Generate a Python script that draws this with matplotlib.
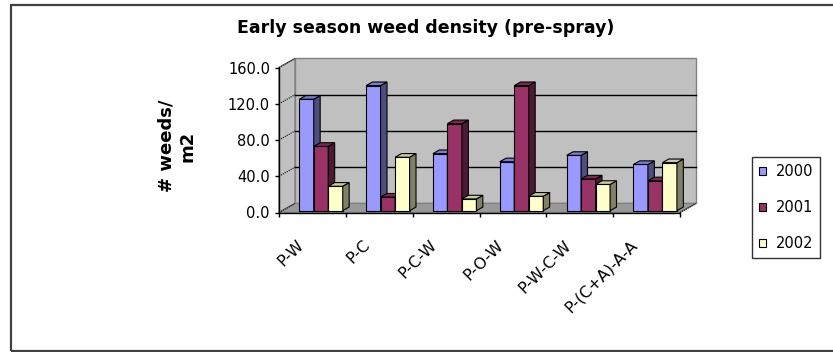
import matplotlib.pyplot as plt
from matplotlib.patches import Polygon, Rectangle, Patch
from matplotlib.transforms import ScaledTranslation

categories = ['P-W', 'P-C', 'P-C-W', 'P-O-W', 'P-W-C-W', 'P-(C+A)-A-A']
years = ['2000', '2001', '2002']
d2000 = [123, 138, 63, 54, 61, 51]
d2001 = [71, 15, 96, 138, 35, 33]
d2002 = [27, 59, 13, 16, 29, 53]
series = [d2000, d2001, d2002]
yticks = [0, 40, 80, 120, 160]

front = ['#9999FF', '#993366', '#FFFFCC']
side = ['#4D4D80', '#4D1A33', '#808066']
top = ['#7A7ACC', '#7A2952', '#CCCCA3']

plt.rcParams['font.family'] = 'DejaVu Sans'
W, H = 833, 352
fig = plt.figure(figsize=(W / 100, H / 100), dpi=100)

# front plane of the 3D box
ax = fig.add_axes([279 / W, 139.5 / H, 401 / W, 145 / H])
n = len(categories)
ymax = yticks[-1]
ax.set_xlim(0, n)
ax.set_ylim(0, ymax)
ax.patch.set_visible(False)

DX, DY = 0.24, 10.0   # box depth in data units
f0, fd = 0.2, 0.4     # bar start depth / thickness as a fraction of the box depth
w = 0.217             # bar width
gap = 0.255           # space before the first bar of a group

wall = '#C0C0C0'
edge = '#808080'
# back wall, left wall, floor
ax.add_patch(Polygon([(DX, DY), (n + DX, DY), (n + DX, ymax + DY), (DX, ymax + DY)],
                     closed=True, fc=wall, ec=edge, lw=1, clip_on=False, zorder=0))
ax.add_patch(Polygon([(0, 0), (DX, DY), (DX, ymax + DY), (0, ymax)],
                     closed=True, fc=wall, ec=edge, lw=1, clip_on=False, zorder=0))
ax.add_patch(Polygon([(0, 0), (n, 0), (n + DX, DY), (DX, DY)],
                     closed=True, fc='#999999', ec=edge, lw=1, clip_on=False, zorder=0.5))

for v in yticks[1:-1]:
    ax.plot([DX, n + DX], [v + DY, v + DY], color='black', lw=1, clip_on=False, zorder=1)
for v in yticks:
    ax.plot([0, DX], [v, v + DY], color='black', lw=0.8, ls=(0, (1, 1)),
            clip_on=False, zorder=1)
ax.plot([n, n + DX], [0, DY], color='black', lw=0.8, ls=(0, (1, 1)), clip_on=False, zorder=1)

b = f0 * DY
for j, vals in enumerate(series):
    xs = [i + gap + j * w + f0 * DX for i in range(n)]
    z = 2 + j
    ax.bar(xs, vals, width=w, bottom=b, align='edge', color=front[j],
           edgecolor='black', lw=0.8, zorder=z, clip_on=False)
    for x0, v in zip(xs, vals):
        xr = x0 + w
        ax.add_patch(Polygon([(xr, b), (xr + fd * DX, b + fd * DY),
                              (xr + fd * DX, b + v + fd * DY), (xr, b + v)],
                             closed=True, fc=side[j], ec='black', lw=0.8,
                             zorder=z, clip_on=False))
        ax.add_patch(Polygon([(x0, b + v), (xr, b + v), (xr + fd * DX, b + v + fd * DY),
                              (x0 + fd * DX, b + v + fd * DY)],
                             closed=True, fc=top[j], ec='black', lw=0.8,
                             zorder=z, clip_on=False))

for s in ['top', 'right']:
    ax.spines[s].set_visible(False)
for s in ['left', 'bottom']:
    ax.spines[s].set_linewidth(1)
    ax.spines[s].set_zorder(10)

ax.set_yticks(yticks, [f'{v:.1f}' for v in yticks])
ax.tick_params(axis='y', direction='out', length=3, width=1, pad=3.5, labelsize=10.5)
ax.set_xticks(range(n + 1), [''] * (n + 1))
ax.tick_params(axis='x', which='major', direction='out', length=3, width=1)
ax.set_xticks([i + 0.5 for i in range(n)], categories, minor=True)
ax.tick_params(axis='x', which='minor', length=0, pad=18, labelsize=11.5)
shift = ScaledTranslation(-6 / 100, 0, fig.dpi_scale_trans)
for lab in ax.get_xticklabels(minor=True):
    lab.set_rotation(45)
    lab.set_ha('right')
    lab.set_va('top')
    lab.set_transform(lab.get_transform() + shift)

fig.text(426 / W, 1 - 28 / H, 'Early season weed density (pre-spray)',
         ha='center', va='center', fontsize=12.5, fontweight='bold')
fig.text(177 / W, 1 - 146 / H, '# weeds/\nm2', rotation=90, ha='center', va='center',
         multialignment='center', fontsize=13, fontweight='bold')

handles = [Patch(fc=front[j], ec='black', lw=0.8) for j in range(len(years))]
leg = fig.legend(handles, years, loc='center', bbox_to_anchor=(786 / W, 1 - 207.5 / H),
                 fontsize=10.5, frameon=True, fancybox=False, edgecolor='black',
                 handlelength=0.5, handleheight=0.5, handletextpad=0.7,
                 labelspacing=1.45, borderpad=0.45, borderaxespad=0)
leg.get_frame().set_linewidth(1)

# outer chart border
fig.patches.append(Rectangle((11 / W, 1.5 / H), 1, 345.5 / H, transform=fig.transFigure,
                             fill=False, ec='#404040', lw=1.6))

fig.savefig('out.png', dpi=100)
